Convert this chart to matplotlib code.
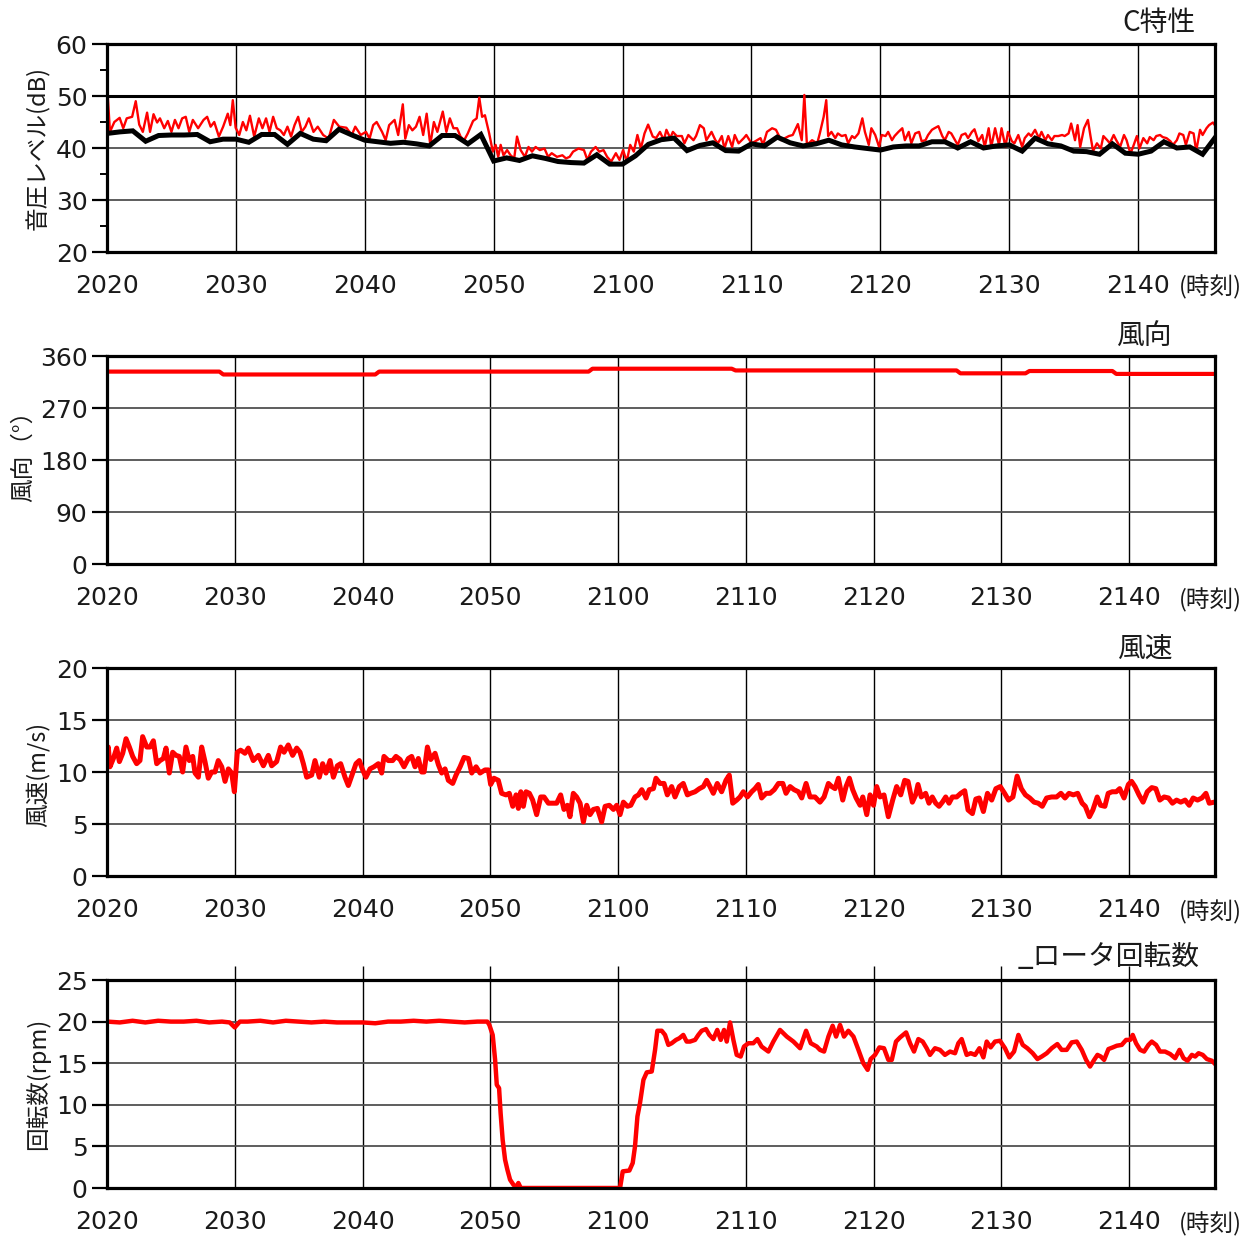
import matplotlib
matplotlib.use("Agg")
import matplotlib.pyplot as plt
from matplotlib.ticker import MultipleLocator

plt.rcParams['font.family'] = ['DejaVu Sans', 'Noto Sans CJK JP']
CJK = ['Noto Sans CJK JP', 'DejaVu Sans']

# ---- time axis: minutes after 20:20 ----
TIME_TICKS = [0, 10, 20, 30, 40, 50, 60, 70, 80]
TIME_LABELS = ['2020', '2030', '2040', '2050', '2100', '2110', '2120', '2130', '2140']

# ---- C-weighted sound pressure level (dB) ----
c_inst_t = [0.00, 0.23, 0.57, 0.98, 1.26, 1.53, 1.95, 2.23, 2.50, 2.78, 3.11, 3.34, 3.61, 3.89, 4.11,
            4.44, 4.72, 5.00, 5.27, 5.55, 5.83, 6.11, 6.38, 6.66, 7.07, 7.49, 7.77, 8.04, 8.32, 8.68,
            9.01, 9.37, 9.57, 9.76, 9.98, 10.26, 10.54, 10.81, 11.09, 11.42, 11.78, 12.06, 12.34,
            12.61, 12.89, 13.17, 13.45, 13.72, 14.00, 14.28, 14.55, 14.83, 15.11, 15.39, 15.66,
            16.02, 16.35, 16.77, 17.19, 17.60, 18.02, 18.57, 18.99, 19.26, 19.68, 20.09, 20.37,
            20.65, 20.92, 21.34, 21.62, 21.89, 22.31, 22.59, 22.95, 23.14, 23.42, 23.69, 23.97,
            24.25, 24.53, 24.80, 25.08, 25.36, 25.63, 26.05, 26.33, 26.60, 26.88, 27.16, 27.43,
            27.71, 27.99, 28.40, 28.68, 28.88, 29.10, 29.32, 29.65, 29.93, 30.15, 30.35, 30.54,
            30.76, 31.04, 31.31, 31.59, 31.81, 32.09, 32.42, 32.70, 32.97, 33.25, 33.58, 33.94,
            34.22, 34.50, 34.91, 35.33, 35.61, 35.89, 36.16, 36.58, 37.00, 37.27, 37.55, 37.91,
            38.19, 38.52, 38.80, 39.12, 39.48, 39.76, 40.04, 40.32, 40.59, 40.87, 41.15, 41.42,
            41.70, 41.98, 42.34, 42.60, 42.90, 43.20, 43.40, 43.70, 43.90, 44.20, 44.60, 44.80,
            45.10, 45.50, 45.70, 46.00, 46.30, 46.50, 46.90, 47.20, 47.40, 47.70, 47.90, 48.20,
            48.50, 48.70, 49.00, 49.40, 49.60, 50.00, 50.30, 50.70, 50.90, 51.20, 51.60, 51.90,
            52.30, 52.90, 53.20, 53.60, 53.90, 54.10, 54.30, 54.70, 55.10, 55.30, 55.60, 55.80,
            55.95, 56.2, 56.5, 56.7, 57.0, 57.3, 57.5, 57.8, 58.0, 58.3, 58.6, 58.8, 59.1, 59.3,
            59.6, 59.9, 60.1, 60.4, 60.6, 60.9, 61.1, 61.4, 61.7, 61.9, 62.2, 62.4, 62.7, 63.0,
            63.2, 63.5, 63.7, 64.0, 64.2, 64.5, 64.8, 65.0, 65.3, 65.5, 65.8, 66.0, 66.3, 66.6,
            66.8, 67.1, 67.3, 67.6, 67.9, 68.1, 68.4, 68.6, 68.9, 69.2, 69.4, 69.7, 69.9, 70.2,
            70.4, 70.7, 71.0, 71.2, 71.5, 71.7, 72.0, 72.3, 72.5, 72.8, 73.0, 73.3, 73.5, 73.8,
            74.1, 74.3, 74.6, 74.8, 75.1, 75.3, 75.5, 75.8, 76.1, 76.3, 76.5, 76.8, 77.1, 77.3,
            77.6, 77.8, 78.1, 78.3, 78.6, 78.9, 79.1, 79.4, 79.6, 79.9, 80.1, 80.4, 80.7, 80.9,
            81.2, 81.4, 81.7, 81.9, 82.2, 82.5, 82.7, 83.0, 83.2, 83.5, 83.7, 84.0, 84.3, 84.5,
            84.8, 85.0, 85.3, 85.5, 85.8, 86.0]
c_inst_db = [52.4, 43.1, 45.0, 45.8, 43.8, 45.7, 46.0, 49.0, 44.5, 43.1, 46.8, 43.1, 46.5, 44.9, 45.7,
             43.8, 45.2, 43.1, 45.4, 43.8, 45.7, 46.0, 43.1, 45.4, 43.8, 45.4, 46.0, 44.1, 45.0, 42.2,
             44.1, 46.6, 44.4, 49.2, 43.9, 42.5, 45.0, 43.4, 46.2, 42.2, 45.7, 43.8, 45.7,
             43.1, 46.0, 43.8, 43.4, 42.5, 44.1, 42.2, 44.4, 46.0, 43.1, 44.1, 45.7,
             43.1, 44.1, 42.5, 41.8, 45.4, 44.1, 43.9, 42.5, 44.1, 42.5, 43.1, 41.8,
             44.4, 45.0, 43.1, 41.5, 44.4, 45.4, 42.5, 48.4, 41.8, 44.4, 43.4, 44.1,
             46.0, 42.5, 46.6, 40.6, 45.0, 43.1, 47.0, 43.1, 45.7, 43.8, 43.8, 42.2,
             41.5, 42.8, 45.2, 45.7, 49.7, 46.0, 46.3, 42.8, 39.3, 40.6, 38.3, 40.6,
             38.6, 39.6, 38.6, 38.0, 42.2, 39.6, 38.3, 40.2, 39.3, 40.2, 39.6, 39.9,
             38.3, 39.0, 38.3, 38.6, 38.0, 38.3, 39.3, 39.9, 39.6, 37.7, 39.3, 40.2,
             39.3, 39.6, 38.3, 37.4, 39.0, 37.7, 39.6, 37.4, 40.6, 39.3, 42.5, 39.9,
             42.8, 44.5, 42.2, 41.9, 43.1, 41.5, 43.5, 41.9, 43.1, 42.3, 42.3, 40.9,
             42.5, 41.5, 42.3, 44.4, 43.8, 41.5, 43.1, 41.5, 40.9, 42.3, 39.9, 42.3,
             40.2, 42.5, 40.9, 41.9, 42.5, 40.9, 41.3, 41.9, 40.6, 43.1, 43.8, 43.5,
             41.5, 42.3, 42.5, 44.6, 41.5, 50.2, 40.6, 41.5, 40.9, 42.8, 46.0, 49.2,
             42.3, 43.1, 41.9, 42.8, 42.3, 42.5, 40.9, 42.3, 41.9, 42.8, 45.7, 43.1, 40.6, 43.8,
             42.5, 40.2, 42.5, 42.3, 43.1, 41.5, 42.3, 43.1, 43.8, 41.5, 43.1, 40.9, 42.8, 43.1,
             41.3, 41.5, 42.5, 43.5, 43.8, 44.2, 42.3, 41.5, 43.1, 42.8, 41.5, 40.6, 42.5, 42.8,
             41.9, 43.1, 43.6, 41.3, 42.5, 40.2, 43.8, 40.2, 43.8, 40.6, 43.8, 40.2, 43.1, 41.3,
             40.9, 42.5, 40.2, 41.9, 42.8, 42.3, 43.5, 41.9, 43.1, 41.5, 42.5, 41.5, 42.3, 42.3,
             42.5, 42.3, 42.8, 44.7, 41.5, 44.4, 40.2, 43.8, 45.4, 42.3, 39.4, 40.9, 39.9, 42.3,
             41.5, 40.9, 42.5, 41.5, 40.2, 42.5, 41.5, 38.9, 40.2, 42.3, 39.9, 41.9, 40.9, 42.1,
             41.5, 42.3, 42.5, 42.1, 41.9, 41.3, 40.6, 41.5, 42.8, 42.5, 40.6, 43.1, 42.8, 39.4,
             43.5, 42.5, 43.8, 44.4, 44.9, 44.2]
# one-minute Leq, one value per minute from 20:20
c_leq_db = [42.8, 43.1, 43.3, 41.3, 42.4, 42.5, 42.5, 42.6, 41.2, 41.7,
            41.7, 41.1, 42.6, 42.6, 40.7, 42.8, 41.7, 41.4, 43.6, 42.5,
            41.5, 41.2, 40.9, 41.1, 40.8, 40.4, 42.4, 42.4, 40.8, 42.6,
            37.5, 38.1, 37.6, 38.5, 38.0, 37.4, 37.2, 37.1, 38.7, 36.9,
            36.9, 38.5, 40.7, 41.6, 41.9, 39.5, 40.5, 41.0, 39.5, 39.4,
            40.8, 40.4, 42.1, 41.0, 40.4, 40.8, 41.5, 40.6, 40.2, 39.9,
            39.6, 40.2, 40.4, 40.4, 41.2, 41.2, 40.0, 41.2, 40.0, 40.4,
            40.6, 39.4, 41.9, 40.8, 40.4, 39.4, 39.3, 38.8, 40.8, 39.0,
            38.8, 39.4, 41.2, 40.0, 40.2, 38.8, 42.1]
c_leq_t = list(range(len(c_leq_db)))

# ---- wind direction (deg) ----
wd_t = [0.0, 8.8, 9.1, 21.0, 21.3, 37.7, 38.0, 48.9, 49.2, 66.5, 66.8, 71.9, 72.2, 78.7, 79.0, 86.8]
wd_deg = [333, 333, 328, 328, 333, 333, 338, 338, 335, 335, 330, 330, 334, 334, 329, 329]

# ---- wind speed (m/s) ----
ws_t = [0.00, 0.10, 0.23, 0.50, 0.76, 0.97, 1.23, 1.49, 1.75, 2.01, 2.32, 2.58, 2.79, 3.11, 3.37,
        3.63, 3.89, 4.15, 4.41, 4.62, 4.88, 5.14, 5.40, 5.66, 5.92, 6.18, 6.44, 6.71, 6.89, 7.15,
        7.41, 7.67, 7.93, 8.19, 8.45, 8.71, 8.98, 9.24, 9.50, 9.76, 9.97, 10.20, 10.46, 10.80,
        11.06, 11.45, 11.85, 12.24, 12.63, 12.89, 13.28, 13.59, 13.86, 14.19, 14.53, 14.85,
        15.11, 15.37, 15.63, 16.02, 16.28, 16.62, 16.88, 17.14, 17.46, 17.72, 18.03, 18.29,
        18.63, 18.89, 19.23, 19.49, 19.75, 20.01, 20.27, 20.59, 20.90, 21.24, 21.50, 21.68,
        22.02, 22.36, 22.62, 22.94, 23.25, 23.59, 23.85, 24.11, 24.37, 24.63, 24.82, 25.08,
        25.34, 25.68, 25.94, 26.20, 26.46, 26.72, 27.06, 27.32, 27.64, 27.95, 28.29, 28.55,
        28.89, 29.20, 29.59, 29.85, 30.03, 30.29, 30.63, 30.89, 31.23, 31.49, 31.76, 32.02,
        32.20, 32.39, 32.59, 32.80, 33.06, 33.32, 33.63, 33.95, 34.21, 34.55, 34.88, 35.20,
        35.51, 35.77, 36.04, 36.24, 36.50, 36.76, 37.03, 37.29, 37.55, 37.81, 38.07, 38.39,
        38.72, 38.99, 39.32, 39.64, 39.90, 40.16, 40.42, 40.74, 41.00, 41.33, 41.60, 41.86,
        42.19, 42.45, 42.77, 42.97, 43.29, 43.60, 43.86, 44.20, 44.46, 44.80, 45.11, 45.43,
        45.69, 46.03, 46.37, 46.68, 46.94, 47.20, 47.46, 47.77, 48.11, 48.45, 48.71, 48.98,
        49.29, 49.55, 49.81, 50.13, 50.46, 50.72, 50.98, 51.24, 51.59, 51.90, 52.23, 52.56,
        52.90, 53.15, 53.47, 53.78, 54.12, 54.38, 54.72, 55.03, 55.42, 55.81, 56.13, 56.47,
        56.73, 56.99, 57.25, 57.59, 57.85, 58.11, 58.37, 58.64, 58.95, 59.16, 59.47, 59.73,
        60.00, 60.25, 60.51, 60.82, 61.16, 61.50, 61.81, 62.13, 62.44, 62.70, 63.04, 63.30,
        63.48, 63.74, 64.08, 64.34, 64.60, 64.87, 65.13, 65.39, 65.65, 65.91, 66.17, 66.51,
        66.83, 67.14, 67.40, 67.74, 68.01, 68.27, 68.60, 68.92, 69.25, 69.58, 69.92, 70.26,
        70.57, 70.91, 71.24, 71.57, 71.89, 72.23, 72.57, 72.89, 73.21, 73.55, 73.94, 74.33,
        74.67, 74.99, 75.30, 75.64, 75.98, 76.33, 76.58, 76.90, 77.17, 77.51, 77.77, 78.11,
        78.37, 78.68, 79.00, 79.27, 79.61, 79.95, 80.20, 80.47, 80.78, 81.10, 81.43, 81.78,
        82.10, 82.41, 82.75, 83.09, 83.40, 83.72, 84.05, 84.39, 84.71, 85.02, 85.36, 85.70,
        86.02, 86.28, 86.67, 86.93]
ws_ms = [11.6, 12.4, 10.5, 11.3, 12.3, 11.0, 11.8, 13.2, 12.4, 11.5, 10.8, 11.1, 13.4, 12.4, 12.4,
         13.0, 10.8, 11.1, 11.3, 12.3, 9.9, 11.9, 11.6, 11.5, 10.0, 12.4, 11.1, 11.5, 9.9, 9.5,
         12.4, 11.0, 9.4, 10.0, 10.0, 11.1, 10.5, 9.1, 10.3, 9.9, 8.1, 11.9, 12.1, 11.8,
         12.3, 11.1, 11.6, 10.6, 11.6, 10.6, 11.0, 12.4, 11.9, 12.6, 11.6, 12.3,
         11.9, 10.8, 9.5, 9.7, 11.1, 9.5, 10.8, 9.9, 11.1, 9.5, 10.6, 10.8,
         9.5, 8.7, 9.9, 10.8, 11.1, 10.2, 9.5, 10.3, 10.5, 10.8, 9.9, 11.5,
         11.1, 11.1, 11.5, 11.2, 10.5, 11.3, 11.5, 10.5, 11.3, 10.0, 10.0, 12.4,
         11.2, 11.8, 10.7, 9.9, 10.3, 9.2, 8.9, 9.7, 10.5, 11.4, 11.3, 9.9,
         10.5, 9.9, 10.2, 10.2, 8.8, 9.4, 9.2, 7.95, 7.8, 7.95, 6.7, 7.8,
         6.5, 8.1, 6.7, 8.1, 7.95, 7.3, 5.9, 7.6, 7.6, 7.0, 7.0, 7.0,
         7.8, 6.4, 6.8, 5.7, 7.95, 7.6, 7.0, 5.2, 6.8, 5.9, 6.4, 6.5,
         5.2, 6.7, 6.8, 6.4, 6.8, 5.9, 7.1, 6.7, 6.8, 7.6, 7.8, 8.3,
         7.5, 8.3, 8.4, 9.4, 8.9, 8.9, 7.8, 8.6, 7.6, 8.6, 8.9, 7.8,
         7.95, 8.1, 8.4, 8.6, 9.2, 8.6, 7.95, 8.9, 8.1, 9.2, 9.7, 7.0,
         7.3, 7.6, 8.1, 7.6, 8.1, 8.4, 8.8, 7.5, 7.95, 7.95, 8.3, 8.9,
         8.9, 7.95, 8.6, 8.3, 8.1, 7.5, 8.9, 7.6, 7.6, 7.1, 7.6, 8.9,
         8.6, 8.4, 9.4, 7.3, 8.6, 9.4, 8.3, 7.5, 6.8, 7.6, 5.9, 7.8,
         6.8, 8.6, 7.6, 7.8, 5.7, 7.3, 8.6, 7.8, 9.2, 9.1, 7.1, 7.8,
         8.8, 7.6, 7.95, 7.0, 7.6, 7.0, 6.7, 7.1, 7.6, 7.0, 7.6, 7.6,
         7.95, 8.2, 6.35, 6.0, 7.4, 7.5, 6.2, 7.95, 7.3, 8.4, 8.6, 7.95,
         7.3, 7.6, 9.6, 8.4, 7.8, 7.5, 7.1, 7.0, 6.7, 7.5, 7.6, 7.6,
         7.95, 7.5, 7.95, 7.8, 7.95, 7.0, 6.7, 5.7, 6.35, 7.6, 6.8, 6.7,
         7.95, 8.1, 8.1, 8.4, 7.5, 8.8, 9.1, 8.6, 7.8, 7.1, 8.1, 8.5,
         8.4, 7.3, 7.6, 7.5, 7.0, 7.3, 7.1, 7.3, 6.8, 7.5, 7.3, 7.5,
         7.95, 7.0, 7.1, 7.0]

# ---- rotor speed (rpm) ----
rt_t = [0, 1, 2, 3, 4, 5, 6, 7, 8, 9, 9.6, 10.0, 10.4, 11, 12, 13, 14, 15, 16, 17, 18, 19, 20,
        21, 22, 23, 24, 25, 26, 27, 28, 29, 29.77, 29.93, 30.19, 30.38, 30.51, 30.69, 30.81,
        30.97, 31.16, 31.34, 31.55, 31.81, 32.02, 32.20, 32.39, 40.16, 40.37, 40.89, 41.15,
        41.33, 41.52, 41.72, 41.99, 42.25, 42.64, 42.90, 43.08, 43.42, 43.68, 43.94, 44.20,
        44.54, 44.80, 45.11, 45.37, 45.64, 46.03, 46.29, 46.55, 46.89, 47.15, 47.46, 47.77,
        48.04, 48.30, 48.51, 48.77, 49.03, 49.29, 49.60, 49.86, 50.20, 50.59, 50.91, 51.24,
        51.77, 52.16, 52.68, 53.21, 53.73, 54.25, 54.72, 55.09, 55.56, 55.81, 56.13, 56.47,
        56.80, 57.07, 57.38, 57.69, 58.03, 58.43, 58.82, 59.20, 59.54, 59.78, 60.12, 60.46,
        60.82, 61.16, 61.43, 61.76, 62.08, 62.55, 62.86, 63.17, 63.51, 63.85, 64.16, 64.42,
        64.81, 65.20, 65.59, 65.99, 66.38, 66.64, 66.90, 67.29, 67.61, 67.95, 68.29, 68.60,
        68.86, 69.17, 69.51, 69.90, 70.29, 70.63, 71.00, 71.34, 71.68, 72.04, 72.46, 72.83,
        73.17, 73.56, 73.95, 74.39, 74.73, 75.12, 75.51, 75.91, 76.30, 76.64, 76.95, 77.27,
        77.53, 77.79, 78.05, 78.39, 78.73, 79.04, 79.43, 79.77, 80.09, 80.29, 80.55, 80.87,
        81.18, 81.52, 81.78, 82.12, 82.43, 82.82, 83.22, 83.61, 83.95, 84.27, 84.58, 84.92,
        85.18, 85.44, 85.77, 86.09, 86.48, 86.74]
rt_rpm = [20.0, 19.9, 20.1, 19.9, 20.1, 20.0, 20.0, 20.1, 19.9, 20.0, 19.9, 19.3, 20.0, 20.0, 20.1,
          19.9, 20.1, 20.0, 19.9, 20.0, 19.9, 19.9, 19.9, 19.8, 20.0, 20.0, 20.1, 20.0, 20.1, 20.0,
          19.9, 20.0, 20.0, 19.6, 18.4, 15.4, 12.4, 12.0, 9.0, 5.8, 3.4, 2.2, 1.0, 0.4, 0.1, 0.6,
          0.0, 0.0, 2.0, 2.1, 3.0, 5.0, 8.6, 10.2, 13.0, 13.9, 14.0, 16.6, 18.9, 18.9, 18.4, 17.2,
          17.4, 17.8, 18.0, 18.4, 17.6, 17.6, 17.8, 18.4, 18.9, 19.1, 18.4, 17.9, 19.0, 17.8,
          19.0, 17.6, 19.9, 17.8, 16.0, 15.8, 17.0, 17.4, 17.4, 17.9, 17.0, 16.4, 17.6, 19.0,
          18.2, 17.6, 16.8, 18.9, 17.4, 17.0, 16.6, 16.4, 18.2, 19.5, 18.2, 19.6, 18.2, 18.9,
          18.2, 16.6, 15.0, 14.2, 15.5, 16.0, 16.9, 16.8, 15.4, 15.4, 17.6, 18.1, 18.7, 17.4,
          16.4, 17.9, 17.6, 16.8, 16.0, 16.8, 16.6, 16.0, 16.4, 16.2, 17.4, 17.9, 16.0, 16.2,
          16.0, 16.8, 15.7, 17.6, 16.9, 17.6, 17.7, 16.8, 15.7, 16.4, 18.4, 17.2, 16.8, 16.2,
          15.5, 15.8, 16.2, 16.8, 17.3, 16.6, 16.6, 17.5, 17.6, 16.6, 15.4, 14.6, 15.4, 16.0,
          15.8, 15.4, 16.7, 16.9, 17.1, 17.2, 17.8, 17.8, 18.4, 17.4, 16.6, 16.4, 17.2, 17.6,
          17.2, 16.4, 16.4, 16.1, 15.6, 16.6, 15.6, 15.3, 16.0, 15.8, 16.2, 16.0, 15.5, 15.3, 14.9]

# ---------------------------------------------------------------
W, H = 1252, 1238
fig = plt.figure(figsize=(W / 100, H / 100), dpi=100)
TXT = '#1a1a1a'
RED = '#ff0000'


def add_panel(top, bottom):
    return fig.add_axes([107 / W, 1 - bottom / H, 1108 / W, (bottom - top) / H])


def style(ax, ylo, yhi, ystep, xmax):
    ax.set_xlim(0, xmax)
    ax.set_ylim(ylo, yhi)
    ax.yaxis.set_major_locator(MultipleLocator(ystep))
    ax.set_xticks(TIME_TICKS)
    ax.set_xticklabels(TIME_LABELS)
    ax.tick_params(axis='x', length=0, pad=16, labelsize=18, labelcolor=TXT)
    ax.tick_params(axis='y', which='major', direction='out', length=11, width=1.6,
                   pad=3, labelsize=18, labelcolor=TXT)
    ax.grid(axis='y', color='#505050', linewidth=1.3)
    ax.grid(axis='x', color='black', linewidth=1.0)
    ax.set_axisbelow(True)
    for s in ax.spines.values():
        s.set_linewidth(2.3)
        s.set_color('black')
        s.set_zorder(5)


def time_unit(y):
    fig.text(1210 / W, 1 - y / H, '(時刻)', family=CJK, fontsize=17, color=TXT,
             ha='center', va='center')


def title(xr, y, s):
    fig.text(xr / W, 1 - y / H, s, family=CJK, fontsize=20, color=TXT, ha='right', va='center')


def ylabel(x, y, s):
    fig.text(x / W, 1 - y / H, s, family=CJK, fontsize=17, color=TXT, rotation=90,
             ha='center', va='center')


# panel 1: C-weighted level
ax1 = add_panel(44, 252)
style(ax1, 20, 60, 10, 85.96)
ax1.yaxis.set_minor_locator(MultipleLocator(5))
ax1.tick_params(axis='y', which='minor', direction='out', length=5, width=1.4)
ax1.axhline(50, color='black', linewidth=2.2, zorder=1.5)
ax1.plot(c_inst_t, c_inst_db, color=RED, linewidth=1.7, zorder=3)
ax1.plot(c_leq_t, c_leq_db, color='black', linewidth=3.6, zorder=4, solid_joinstyle='miter')
title(1195, 23, 'C特性')
ylabel(38, 148, '音圧レベル(dB)')
time_unit(287)

# panel 2: wind direction
ax2 = add_panel(356, 564)
style(ax2, 0, 360, 90, 86.73)
ax2.plot(wd_t, wd_deg, color=RED, linewidth=3.0, zorder=3)
title(1172, 336, '風向')
ylabel(23, 450, '風向（°）')
time_unit(600)

# panel 3: wind speed
ax3 = add_panel(668, 876)
style(ax3, 0, 20, 5, 86.73)
ax3.plot(ws_t, ws_ms, color=RED, linewidth=3.6, zorder=3)
title(1173, 649, '風速')
ylabel(38, 774, '風速(m/s)')
time_unit(912)

# panel 4: rotor speed
ax4 = add_panel(980, 1188)
style(ax4, 0, 25, 5, 86.73)
ax4.vlines(TIME_TICKS[1:], 25, 26.7, colors='black', linewidth=1.0, clip_on=False, zorder=1)
ax4.plot(rt_t, rt_rpm, color=RED, linewidth=3.2, zorder=3)
title(1200, 957, '_ロータ回転数')
ylabel(38, 1084, '回転数(rpm)')
time_unit(1224)

fig.savefig('out.png', dpi=100)
